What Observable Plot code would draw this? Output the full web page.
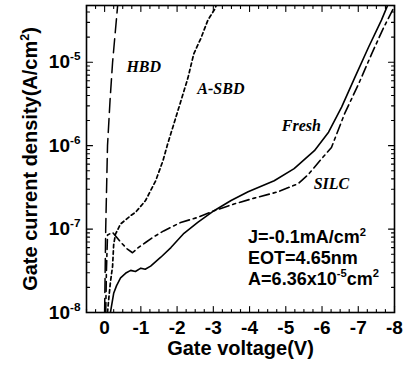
<!DOCTYPE html>
<html><head><meta charset="utf-8">
<script src="https://cdn.jsdelivr.net/npm/d3@7"></script>
<script src="https://cdn.jsdelivr.net/npm/@observablehq/plot@0.6"></script>
<style>html,body{margin:0;padding:0;background:#fff}svg{display:block}</style>
</head><body><div id="chart"></div>
<script>
// ---- data (gate voltage V, current density A/cm^2) ----
const freshV = [-0.16,-0.25,-0.33,-0.44,-0.60,-0.72,-0.85,-1.00,-1.12,-1.27,-1.55,-1.83,-2.19,-2.57,-3.02,-3.49,-3.96,-4.68,-5.23,-5.79,-6.18,-6.54,-6.90,-7.28,-7.64,-7.81,-7.95];
const freshJ = [1.0e-8,1.7e-8,2.1e-8,2.6e-8,3.0e-8,3.2e-8,3.1e-8,3.4e-8,3.3e-8,3.6e-8,4.6e-8,6.0e-8,8.9e-8,1.2e-7,1.66e-7,2.2e-7,2.8e-7,3.8e-7,5.3e-7,8.7e-7,1.45e-6,2.9e-6,6.5e-6,1.5e-5,3.2e-5,4.8e-5,7.0e-5];

const silcV = [-0.03,-0.05,-0.08,-0.22,-0.44,-0.62,-0.77,-0.91,-1.13,-1.36,-1.63,-2.10,-2.57,-3.02,-3.57,-4.13,-4.79,-5.34,-5.62,-5.98,-6.26,-6.62,-7.01,-7.37,-7.70,-7.98,-8.10];
const silcJ = [1.0e-8,3.2e-8,8.5e-8,9.1e-8,7.0e-8,5.8e-8,5.2e-8,5.9e-8,6.9e-8,8.1e-8,9.5e-8,1.2e-7,1.38e-7,1.66e-7,2.0e-7,2.35e-7,2.8e-7,3.5e-7,4.5e-7,6.9e-7,9.5e-7,2.4e-6,5.5e-6,1.26e-5,2.6e-5,4.5e-5,6.0e-5];

const asbdV = [-0.08,-0.11,-0.16,-0.22,-0.25,-0.30,-0.44,-0.72,-0.86,-1.13,-1.41,-1.61,-1.74,-2.02,-2.30,-2.46,-2.66,-2.85,-3.05,-3.15];
const asbdJ = [1.0e-8,1.4e-8,2.3e-8,3.6e-8,6.5e-8,8.7e-8,1.15e-7,1.45e-7,1.6e-7,2.2e-7,3.8e-7,6.6e-7,1.05e-6,2.6e-6,6.5e-6,1.26e-5,1.95e-5,3.2e-5,4.4e-5,6.0e-5];

const hbdV = [0.00,-0.03,-0.08,-0.15,-0.22,-0.36,-0.40];
const hbdJ = [1.0e-8,1.0e-7,1.0e-6,3.5e-6,1.0e-5,4.8e-5,6.5e-5];

const curveNames = ["HBD","A-SBD","Fresh","SILC"];
const curveLabelV = [-1.08,-3.21,-5.43,-6.26];
const curveLabelJ = [8.9e-6,4.8e-6,1.74e-6,3.5e-7];

const noteText = ["J=-0.1mA/cm{2}","EOT=4.65nm","A=6.36x10{-5}cm{2}"];
const noteV = [-3.96,-3.96,-3.96];
const noteJ = [7.9e-8,4.5e-8,2.5e-8];

const xTicks = [0,-1,-2,-3,-4,-5,-6,-7,-8];
const yTicks = [1e-8,1e-7,1e-6,1e-5];
const xTitle = "Gate voltage(V)";
const yTitle = "Gate current density(A/cm{2})";

// ---- helpers ----
const zipVJ = (V, J) => V.map((v, i) => ({V: v, J: J[i]}));
const xMinor = d3.range(0.5, -8.001, -0.25).filter(v => Math.abs(v - Math.round(v)) > 1e-6);
const yMinor = [];
for (let e = -8; e <= -5; e++) for (let m = 2; m <= 9; m++) { const v = m * Math.pow(10, e); if (v < 4.8e-5) yMinor.push(v); }
const tickShape = {draw(ctx, l) { ctx.moveTo(0, 0); ctx.lineTo(0, -l); }};
const tk = (data, ch, anchor, rot, len) => Plot.vector(data, {[ch]: d => d, frameAnchor: anchor, rotate: rot, length: len, anchor: "start", shape: tickShape, stroke: "black", strokeWidth: 1.1});

const sans = "'Liberation Sans', Arial, Helvetica, sans-serif";
const serif = "'Liberation Serif', 'Times New Roman', serif";

const chart = Plot.plot({
  width: 404, height: 366,
  marginLeft: 86, marginRight: 10, marginTop: 5, marginBottom: 54,
  style: {fontFamily: sans, fontWeight: "bold", color: "black", background: "white", overflow: "visible"},
  x: {domain: [0.5, -8], axis: null, label: null},
  y: {type: "log", domain: [1e-8, Math.pow(10, -4.32)], axis: null, label: null},
  marks: [
    Plot.line(zipVJ(hbdV, hbdJ), {x: "V", y: "J", stroke: "black", strokeWidth: 1.5, strokeDasharray: "14,6", clip: true}),
    Plot.line(zipVJ(asbdV, asbdJ), {x: "V", y: "J", stroke: "black", strokeWidth: 1.7, strokeDasharray: "3.5,3", clip: true}),
    Plot.line(zipVJ(silcV, silcJ), {x: "V", y: "J", stroke: "black", strokeWidth: 1.6, strokeDasharray: "10,4,3,4", clip: true}),
    Plot.line(zipVJ(freshV, freshJ), {x: "V", y: "J", stroke: "black", strokeWidth: 1.6, clip: true}),
    Plot.frame({stroke: "black", strokeWidth: 1.6}),
    tk(xTicks, "x", "bottom", 0, 6), tk(xMinor, "x", "bottom", 0, 3),
    tk(xTicks, "x", "top", 180, 6), tk(xMinor, "x", "top", 180, 3),
    tk(yTicks, "y", "left", 90, 6), tk(yMinor, "y", "left", 90, 3),
    tk(yTicks, "y", "right", -90, 6), tk(yMinor, "y", "right", -90, 3),
    Plot.axisX({ticks: xTicks, tickFormat: d => d === 0 ? "0" : String(d), tickSize: 0, tickPadding: 8, fontSize: 19, fontWeight: "bold", label: null}),
    Plot.axisY({ticks: yTicks, tickFormat: d => "10{" + Math.round(Math.log10(d)) + "}", tickSize: 0, tickPadding: 6, fontSize: 19, fontWeight: "bold", label: null}),
    Plot.text([xTitle], {frameAnchor: "bottom", textAnchor: "middle", lineAnchor: "middle", dy: 36, fontSize: 20, fontWeight: "bold"}),
    Plot.text([yTitle], {frameAnchor: "left", textAnchor: "middle", lineAnchor: "middle", rotate: -90, dx: -56, fontSize: 20, fontWeight: "bold"}),
    Plot.text(curveNames, {x: (d, i) => curveLabelV[i], y: (d, i) => curveLabelJ[i], text: d => d, fontFamily: serif, fontStyle: "italic", fontWeight: "bold", fontSize: 16}),
    Plot.text(noteText, {x: (d, i) => noteV[i], y: (d, i) => noteJ[i], text: d => d, textAnchor: "start", fontSize: 18, fontWeight: "bold"})
  ]
});
document.getElementById("chart").appendChild(chart);

// superscripts: text inside {...} is raised
const NS = "http://www.w3.org/2000/svg";
chart.querySelectorAll("text").forEach(el => {
  const targets = el.querySelector("tspan") ? Array.from(el.querySelectorAll("tspan")) : [el];
  targets.forEach(t => {
    const s = t.textContent;
    if (!s.includes("{")) return;
    const fs = parseFloat(getComputedStyle(el).fontSize) || 16;
    const shift = fs * 0.42;
    t.textContent = "";
    let raised = false;
    s.split(/(\{[^}]*\})/).forEach(p => {
      if (!p) return;
      const ts = document.createElementNS(NS, "tspan");
      if (p[0] === "{") {
        ts.textContent = p.slice(1, -1);
        ts.setAttribute("font-size", (fs * 0.62).toFixed(1));
        ts.setAttribute("dy", (-shift).toFixed(1));
        raised = true;
      } else {
        ts.textContent = p;
        if (raised) { ts.setAttribute("dy", shift.toFixed(1)); raised = false; }
      }
      t.appendChild(ts);
    });
  });
});
</script>
</body></html>
